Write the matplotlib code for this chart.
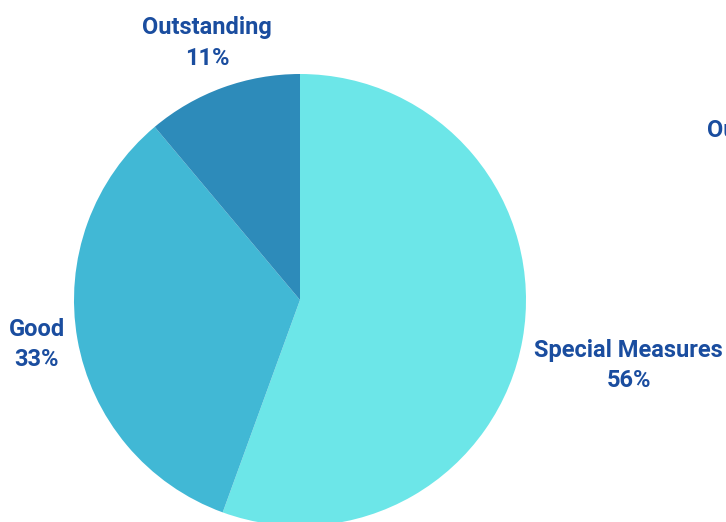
import matplotlib.pyplot as plt

categories = ["Special Measures", "Good", "Outstanding"]
counts = [5, 3, 1]
colors = ["#6ce6e8", "#41b8d5", "#2d8bba"]
text_color = "#1a4d9f"

# label anchor points (axes data coords, pie radius = 1)
label_pos = [(1.455, -0.29), (-1.164, -0.198), (-0.41, 1.137)]

fig = plt.figure(figsize=(7.26, 5.22), dpi=100)
W, H = 726, 522
cx, cy, r = 300, 300, 226
ax = fig.add_axes([(cx - r) / W, (H - cy - r) / H, 2 * r / W, 2 * r / H])

total = sum(counts)
ax.pie(counts, colors=colors, startangle=90, counterclock=False,
       radius=1, wedgeprops=dict(linewidth=0))
ax.set_xlim(-1, 1)
ax.set_ylim(-1, 1)
ax.set_aspect("equal")
ax.axis("off")

font = ["Roboto", "DejaVu Sans"]
for name, c, (x, y) in zip(categories, counts, label_pos):
    ax.text(x, y, f"{name}\n{round(100 * c / total)}%", ha="center", va="center",
            fontsize=17, fontweight="bold", color=text_color,
            family=font, linespacing=1.4, clip_on=False)

# neighbouring chart label cut off at the right edge
fig.text(707 / W, 1 - 130 / H, "Outstanding", ha="left", va="center",
         fontsize=17, fontweight="bold", color=text_color, family=font)

fig.savefig("out.png", dpi=100)
